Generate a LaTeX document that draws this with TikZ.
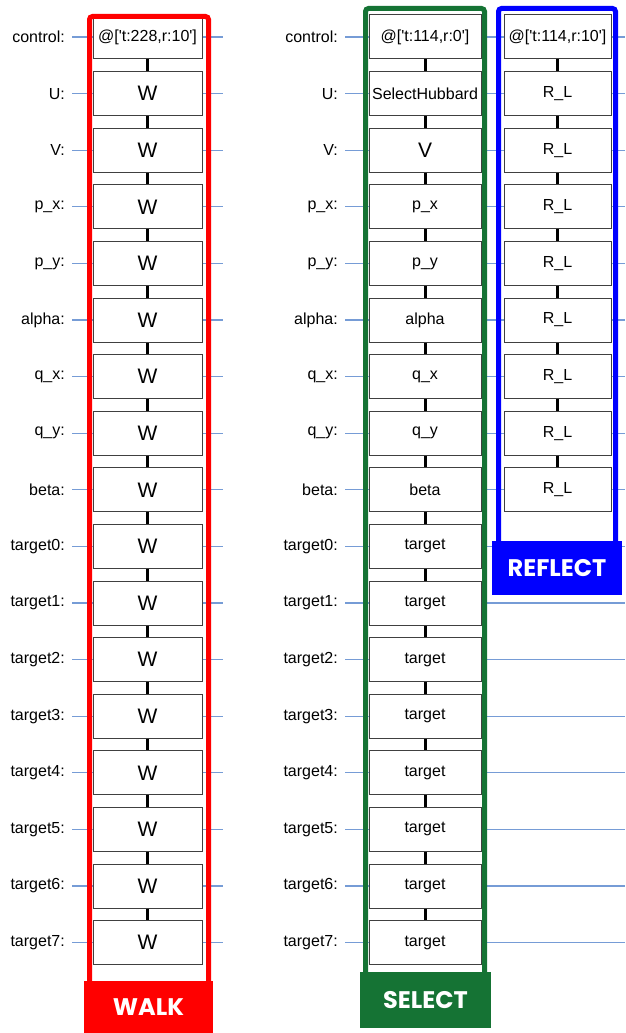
\documentclass[tikz,border=0pt]{standalone}
\usepackage{fontspec}
\setmainfont{Liberation Sans}
\newfontfamily\bannerfont{Poppins}
\definecolor{wireblue}{RGB}{118,156,214}
\definecolor{walkred}{RGB}{255,0,0}
\definecolor{selgreen}{RGB}{21,115,52}
\definecolor{refblue}{RGB}{0,0,255}
\newcommand\bigchr[1]{{\fontsize{21}{21}\selectfont #1}}
\newcommand\walkctl{@[\textquotesingle t:228,r:10\textquotesingle]}
\newcommand\selctl{@[\textquotesingle t:114,r:0\textquotesingle]}
\newcommand\refctl{@[\textquotesingle t:114,r:10\textquotesingle]}
\tikzset{
  gate/.style={draw=black!75, line width=1pt, fill=white, minimum height=44pt,
    inner sep=0pt, font=\fontsize{16}{16}\selectfont},
  qlabel/.style={anchor=east, inner xsep=7pt, font=\fontsize{16}{16}\selectfont},
  wire/.style={draw=wireblue, line width=1.3pt},
  link/.style={line width=3pt},
  frame/.style={line width=5pt, rounded corners=3pt},
  banner/.style={text=white, inner sep=0pt, minimum height=52pt,
    font=\bannerfont\bfseries\fontsize{24}{24}\selectfont}
}
\begin{document}
\begin{tikzpicture}[x=1pt, y=-1pt]
  \useasboundingbox (0,0) rectangle (625,1033);
  % Walk circuit
  \foreach \q [count=\i from 0] in {control,U,V,p\_x,p\_y,alpha,q\_x,q\_y,beta,
      target0,target1,target2,target3,target4,target5,target6,target7} {
    \pgfmathsetmacro\yy{37+56.6*\i}
    \node[qlabel] (wl\i) at (72,\yy) {\q:};
    \coordinate (we\i) at (223,\yy);
    \ifnum\i=0 \def\txt{\walkctl}\else\def\txt{\bigchr{W}}\fi
    \node[gate, minimum width=109] (w\i) at (147.5,\yy) {\txt};
    \draw[wire] (wl\i) -- (w\i);
    \draw[wire] (w\i) -- (we\i);
  }
  \foreach \i [remember=\i as \j (initially 0)] in {1,...,16}
    \draw[link] (w\j.south) -- (w\i.north);
  % Select + reflect circuit
  \foreach \q/\g [count=\i from 0] in {control/\selctl, U/SelectHubbard,
      V/\bigchr{V}, p\_x/p\_x, p\_y/p\_y, alpha/alpha, q\_x/q\_x, q\_y/q\_y,
      beta/beta, target0/target, target1/target, target2/target, target3/target,
      target4/target, target5/target, target6/target, target7/target} {
    \pgfmathsetmacro\yy{37+56.6*\i}
    \node[qlabel] (sl\i) at (345,\yy) {\q:};
    \coordinate (re\i) at (625,\yy);
    \node[gate, minimum width=112] (s\i) at (425,\yy) {\g};
    \draw[wire] (sl\i) -- (s\i);
    \ifnum\i<9
      \ifnum\i=0 \def\txt{\refctl}\else\def\txt{R\_L}\fi
      \node[gate, minimum width=107] (r\i) at (557.5,\yy) {\txt};
      \draw[wire] (s\i) -- (r\i);
      \draw[wire] (r\i) -- (re\i);
    \else
      \draw[wire] (s\i) -- (re\i);
    \fi
  }
  \foreach \i [remember=\i as \j (initially 0)] in {1,...,16}
    \draw[link] (s\j.south) -- (s\i.north);
  \foreach \i [remember=\i as \j (initially 0)] in {1,...,8}
    \draw[link] (r\j.south) -- (r\i.north);
  % Frames
  \draw[frame, walkred] (89.5,16.5) rectangle (208.5,995);
  \draw[frame, selgreen] (365.5,8.5) rectangle (484.5,985);
  \draw[frame, refblue] (498.5,8.5) rectangle (615.5,555);
  % Banners
  \node[banner, fill=walkred, minimum width=129] (walk) at (148.5,1007) {WALK};
  \node[banner, fill=selgreen, minimum width=131, minimum height=56] (select) at (425.5,1000) {SELECT};
  \node[banner, fill=refblue, minimum width=130, minimum height=54] (reflect) at (557,568) {REFLECT};
\end{tikzpicture}
\end{document}
